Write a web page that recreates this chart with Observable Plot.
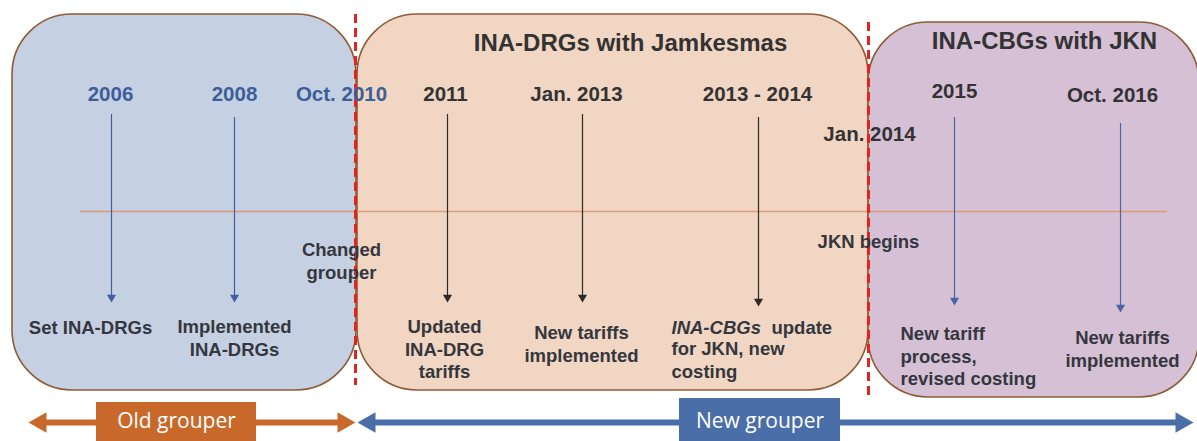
<!DOCTYPE html>
<html><head><meta charset="utf-8">
<script src="https://cdn.jsdelivr.net/npm/d3@7"></script>
<script src="https://cdn.jsdelivr.net/npm/@observablehq/plot@0.6"></script>
<style>body{margin:0;background:#fff;} #chart svg{display:block;}</style>
</head><body><div id="chart"></div>
<script>
// ---- Data ----
const phaseTitles = ["", "INA-DRGs with Jamkesmas", "INA-CBGs with JKN"];
const eventDates = ["2006", "2008", "Oct. 2010", "2011", "Jan. 2013", "2013 - 2014", "Jan. 2014", "2015", "Oct. 2016"];
const eventNotes = ["Set INA-DRGs", "Implemented\nINA-DRGs", "Changed\ngrouper", "Updated\nINA-DRG\ntariffs",
  "New tariffs\nimplemented", "for JKN, new\ncosting", "JKN begins", "New tariff\nprocess,\nrevised costing", "New tariffs\nimplemented"];
const eventHasArrow = [true, true, false, true, true, true, false, true, true];
const grouperLabels = ["Old grouper", "New grouper"];

// ---- Layout (diagram coordinates) ----
const panelX1 = [12, 357, 868], panelX2 = [356, 868, 1199];
const panelY1 = [14, 14, 22], panelY2 = [390, 390, 397];
const panelFill = ["#c5d0e3", "#f1d6c3", "#d6c0d6"];
const titleX = [0, 630, 1044], titleY = [0, 43, 41];
const boundaryX = [355, 868], boundaryY1 = [14, 22], boundaryY2 = [385, 395];
const dateX = [110, 234, 341, 445, 576, 757, 869, 954, 1112];
const dateY = [94, 94, 94, 94, 94, 94, 134, 91, 95];
const arrowX = [111, 234, null, 447, 582, 758, null, 954, 1120];
const arrowTop = [114, 117, null, 114, 114, 117, null, 117, 123];
const arrowTip = [302, 302, null, 302, 302, 306, null, 305, 312];
const noteX = [90, 234, 341, 444, 581, 671, 868, 900, 1122];
const noteY = [326, 337, 260, 348, 343, 359, 240, 355, 348];
const noteLeft = [false, false, false, false, false, true, false, true, false];
const textDark = "#333333";
const dateColor = ["#3d5d9b", "#3d5d9b", "#3d5d9b", textDark, textDark, textDark, textDark, textDark, textDark];
const arrowColor = ["#3f5fa0", "#3f5fa0", null, "#2b2b2b", "#2b2b2b", "#2b2b2b", null, "#4866a6", "#4866a6"];
const grouperX1 = [28, 357], grouperX2 = [355, 1193], grouperY = 422;
const grouperColor = ["#c8692b", "#4a6ea8"];
const boxX1 = [96, 679], boxX2 = [256, 840], boxY1 = [402, 398];

// ---- Tables ----
const panels = panelX1.map((d, i) => ({x1: d, x2: panelX2[i], y1: panelY1[i], y2: panelY2[i], fill: panelFill[i], title: phaseTitles[i], tx: titleX[i], ty: titleY[i]}));
const boundaries = boundaryX.map((d, i) => ({x: d, y1: boundaryY1[i], y2: boundaryY2[i]}));
const events = eventDates.map((d, i) => ({date: d, note: eventNotes[i], x: dateX[i], y: dateY[i], color: dateColor[i],
  nx: noteX[i], ny: noteY[i], left: noteLeft[i], has: eventHasArrow[i], ax: arrowX[i], at: arrowTop[i], tip: arrowTip[i], ac: arrowColor[i]}));
const arrows = events.filter(d => d.has);
const groupers = grouperLabels.map((d, i) => ({label: d, x1: grouperX1[i], x2: grouperX2[i], color: grouperColor[i],
  bx1: boxX1[i], bx2: boxX2[i], by1: boxY1[i]}));
const heads = groupers.flatMap(g => [{x: g.x1 + 12, rot: -90, color: g.color}, {x: g.x2 - 12, rot: 90, color: g.color}]);

const boldFont = "Liberation Sans, Arial, sans-serif";
const noteStyle = {fontSize: 18.5, fontWeight: "bold", fill: "#34373d", lineAnchor: "middle", lineHeight: 1.22};
const chart = Plot.plot({
  width: 1197, height: 441, margin: 0,
  x: {domain: [0, 1197], range: [0, 1197], axis: null},
  y: {domain: [0, 441], range: [0, 441], axis: null},
  color: {type: "identity"},
  style: {background: "#ffffff", fontFamily: boldFont},
  marks: [
    Plot.rect(panels, {x1: "x1", x2: "x2", y1: "y1", y2: "y2", fill: "fill", stroke: "#8d5b36", strokeWidth: 1.6, rx: 60, ry: 60}),
    Plot.ruleY([211], {x1: 80, x2: 1167, stroke: "#d89d78", strokeWidth: 1.5}),
    Plot.ruleX(boundaries, {x: "x", y1: "y1", y2: "y2", stroke: "#e3231d", strokeWidth: 3, strokeDasharray: "9,5"}),
    Plot.text(panels.filter(d => d.title), {x: "tx", y: "ty", text: "title", fontSize: 24, fontWeight: "bold", fill: "#333", lineAnchor: "middle"}),
    Plot.text(events, {x: "x", y: "y", text: "date", fontSize: 20.5, fontWeight: "bold", fill: "color", lineAnchor: "middle"}),
    Plot.ruleX(arrows, {x: "ax", y1: "at", y2: d => d.tip - 7, stroke: "ac", strokeWidth: 1.2}),
    Plot.dot(arrows, {x: "ax", y: d => d.tip - 5.2, symbol: "triangle", rotate: 180, r: 3.4, fill: "ac", stroke: null}),
    Plot.text(events.filter(d => !d.left), {x: "nx", y: "ny", text: "note", textAnchor: "middle", ...noteStyle}),
    Plot.text(events.filter(d => d.left), {x: "nx", y: "ny", text: "note", textAnchor: "start", ...noteStyle}),
    Plot.text(["INA-CBGs"], {x: 671, y: 326, text: d => d, textAnchor: "start", fontStyle: "italic", ...noteStyle}),
    Plot.text(["update"], {x: 771, y: 326, text: d => d, textAnchor: "start", ...noteStyle}),
    Plot.ruleY(groupers, {x1: d => d.x1 + 14, x2: d => d.x2 - 14, y: grouperY, stroke: "color", strokeWidth: 6}),
    Plot.dot(heads, {x: "x", y: grouperY, symbol: "triangle", rotate: "rot", r: 7.7, fill: "color", stroke: null}),
    Plot.rect(groupers, {x1: "bx1", x2: "bx2", y1: "by1", y2: 445, fill: "color"}),
    Plot.text(groupers, {x: d => (d.bx1 + d.bx2) / 2, y: 421, text: "label", fill: "#ffffff", fontSize: 21, fontFamily: "Open Sans, sans-serif", lineAnchor: "middle"})
  ]
});
document.getElementById("chart").appendChild(chart);
</script>
</body></html>
